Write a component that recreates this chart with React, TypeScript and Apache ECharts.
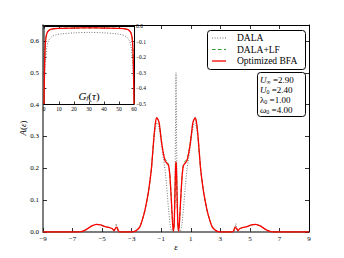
import React, { useEffect, useRef } from 'react';
import * as echarts from 'echarts';

// ---------- main panel data: A(eps) ----------
const EPS_BFA = [-9, -7, -6.6, -6.3, -6.0, -5.7, -5.4, -5.1, -4.8, -4.5, -4.3, -4.2, -4.1, -4.0, -3.9, -3.8, -3.0, -2.8, -2.6, -2.44, -2.3, -2.1, -1.88, -1.75, -1.65, -1.5, -1.4, -1.31, -1.2, -1.13, -1.05, -0.97, -0.85, -0.74, -0.6, -0.5, -0.42, -0.35, -0.28, -0.22, -0.17, -0.12, -0.07, -0.03, 0, 0.03, 0.07, 0.12, 0.17, 0.22, 0.28, 0.35, 0.42, 0.5, 0.6, 0.74, 0.85, 0.97, 1.05, 1.13, 1.2, 1.31, 1.4, 1.5, 1.65, 1.75, 1.88, 2.1, 2.3, 2.44, 2.6, 2.8, 3.0, 3.8, 3.9, 4.0, 4.1, 4.2, 4.3, 4.5, 4.8, 5.1, 5.4, 5.7, 6.0, 6.3, 6.6, 7, 9];
const A_BFA = [0, 0, 0, 0.003, 0.01, 0.019, 0.024, 0.022, 0.017, 0.014, 0.01, 0.004, 0.011, 0.015, 0.004, 0, 0, 0.002, 0.008, 0.017, 0.035, 0.069, 0.122, 0.165, 0.206, 0.295, 0.34, 0.359, 0.352, 0.34, 0.31, 0.28, 0.245, 0.224, 0.215, 0.208, 0.18, 0.13, 0.07, 0.02, 0.003, 0.03, 0.12, 0.2, 0.22, 0.2, 0.12, 0.03, 0.003, 0.02, 0.07, 0.13, 0.18, 0.208, 0.215, 0.224, 0.245, 0.28, 0.31, 0.34, 0.352, 0.359, 0.34, 0.295, 0.206, 0.165, 0.122, 0.069, 0.035, 0.017, 0.008, 0.002, 0, 0, 0.004, 0.015, 0.011, 0.004, 0.01, 0.014, 0.017, 0.022, 0.024, 0.019, 0.01, 0.003, 0, 0, 0];
const A_LF = [0, 0, 0, 0.003, 0.01, 0.019, 0.024, 0.022, 0.017, 0.014, 0.01, 0.004, 0.011, 0.015, 0.004, 0, 0, 0.002, 0.008, 0.017, 0.035, 0.069, 0.122, 0.165, 0.206, 0.295, 0.34, 0.358, 0.351, 0.339, 0.31, 0.281, 0.248, 0.229, 0.221, 0.21, 0.18, 0.13, 0.07, 0.02, 0.003, 0.03, 0.12, 0.2, 0.22, 0.2, 0.12, 0.03, 0.003, 0.02, 0.07, 0.13, 0.18, 0.21, 0.221, 0.229, 0.248, 0.281, 0.31, 0.339, 0.351, 0.358, 0.34, 0.295, 0.206, 0.165, 0.122, 0.069, 0.035, 0.017, 0.008, 0.002, 0, 0, 0.004, 0.015, 0.011, 0.004, 0.01, 0.014, 0.017, 0.022, 0.024, 0.019, 0.01, 0.003, 0, 0, 0];

const EPS_DALA = [-9, -4.2, -4.1, -4.05, -4.0, -3.9, -3.0, -2.8, -2.6, -2.44, -2.3, -2.1, -1.88, -1.65, -1.5, -1.4, -1.3, -1.2, -1.1, -1.0, -0.9, -0.8, -0.74, -0.63, -0.52, -0.41, -0.32, -0.22, -0.12, -0.07, -0.03, 0, 0.03, 0.07, 0.12, 0.22, 0.32, 0.41, 0.52, 0.63, 0.74, 0.8, 0.9, 1.0, 1.1, 1.2, 1.3, 1.4, 1.5, 1.65, 1.88, 2.1, 2.3, 2.44, 2.6, 2.8, 3.0, 3.9, 4.0, 4.05, 4.1, 4.2, 9];
const A_DALA = [0, 0, 0.012, 0.026, 0.012, 0, 0, 0.002, 0.008, 0.017, 0.033, 0.066, 0.118, 0.2, 0.285, 0.325, 0.343, 0.338, 0.315, 0.28, 0.245, 0.215, 0.196, 0.143, 0.08, 0.027, 0.004, 0.002, 0.02, 0.12, 0.35, 0.5, 0.35, 0.12, 0.02, 0.002, 0.004, 0.027, 0.08, 0.143, 0.196, 0.215, 0.245, 0.28, 0.315, 0.338, 0.343, 0.325, 0.285, 0.2, 0.118, 0.066, 0.033, 0.017, 0.008, 0.002, 0, 0, 0.012, 0.026, 0.012, 0, 0];

// ---------- inset data: G_f(tau) ----------
const TAU_BFA = [0, 0.3, 0.7, 1.2, 2, 3, 5, 10, 20, 30, 40, 50, 55, 57, 58, 58.8, 59.3, 59.7, 60];
const G_BFA = [-0.5, -0.3, -0.15, -0.08, -0.045, -0.03, -0.02, -0.015, -0.013, -0.012, -0.013, -0.015, -0.02, -0.03, -0.045, -0.08, -0.15, -0.3, -0.5];
const TAU_DALA = [0, 0.5, 1, 2, 3, 5, 8, 12, 20, 30, 40, 48, 52, 55, 57, 58, 59, 59.5, 60];
const G_DALA = [-0.5, -0.32, -0.22, -0.13, -0.095, -0.07, -0.056, -0.05, -0.044, -0.041, -0.044, -0.05, -0.056, -0.07, -0.095, -0.13, -0.22, -0.32, -0.5];

// ---------- ticks, legend, parameters ----------
const X_TICKS = [-9, -7, -5, -3, -1, 1, 3, 5, 7, 9];
const Y_TICKS = [0, 0.1, 0.2, 0.3, 0.4, 0.5, 0.6];
const TAU_TICKS = [0, 10, 20, 30, 40, 50, 60];
const G_TICKS = [-0.5, -0.4, -0.3, -0.2, -0.1, 0];
const LEGEND_NAMES = ['DALA', 'DALA+LF', 'Optimized BFA'];
const PARAMS = [
  ['U', '∞', ' =2.90'],
  ['U', '0', ' =2.40'],
  ['λ', '0', ' =1.00'],
  ['ω', '0', ' =4.00'],
];

const SERIF = 'Liberation Serif';
const C_DALA = '#666';
const C_LF = '#2a9a2a';
const C_BFA = '#ff0000';
const DOT = [1, 1.6];
const DASH = [3.5, 2.5];
const zip = (xs: number[], ys: number[]) => xs.map((x, i) => [x, ys[i]]);
const minus = (s: string) => s.replace('-', '−');

export default function App() {
  const ref = useRef<HTMLDivElement>(null);
  useEffect(() => {
    const chart = echarts.init(ref.current!, null, { renderer: 'svg' });
    const axisLine = { show: true, onZero: false, lineStyle: { color: '#000', width: 1 } };
    const thickLine = { show: true, onZero: false, lineStyle: { color: '#555', width: 1.5 } };
    const tick = (vals: number[], len = 4) => ({ show: true, inside: true, length: len, customValues: vals, lineStyle: { color: '#000', width: 0.8 } });
    const lbl = (size: number, margin: number, vals: number[], fmt: (v: number) => string) => ({
      show: true, fontSize: size, fontFamily: SERIF, color: '#000', margin, customValues: vals, formatter: fmt,
    });
    const legendStyles = [
      { stroke: C_DALA, lineWidth: 1, lineDash: DOT },
      { stroke: C_LF, lineWidth: 1, lineDash: DASH },
      { stroke: C_BFA, lineWidth: 1.3 },
    ];
    const option: any = {
      animation: false,
      backgroundColor: '#fff',
      grid: [
        { left: 43, top: 25, width: 266, height: 207, show: false },
        { left: 44, top: 26, width: 90, height: 78, show: true, backgroundColor: '#fff', borderWidth: 0, z: 5 },
      ],
      xAxis: [
        { type: 'value', gridIndex: 0, min: -9, max: 9, position: 'bottom', axisLine: thickLine,
          axisTick: tick(X_TICKS), axisLabel: lbl(7, 3, X_TICKS, (v: number) => minus(String(v))), splitLine: { show: false } },
        { type: 'value', gridIndex: 0, min: -9, max: 9, position: 'top', axisLine, axisTick: tick(X_TICKS), axisLabel: { show: false }, splitLine: { show: false } },
        { type: 'value', gridIndex: 1, min: 0, max: 60, position: 'bottom', axisLine, z: 6,
          axisTick: tick(TAU_TICKS, 2.5), axisLabel: lbl(5.5, 2, TAU_TICKS, (v: number) => String(v)), splitLine: { show: false } },
        { type: 'value', gridIndex: 1, min: 0, max: 60, position: 'top', axisLine, z: 6, axisTick: tick(TAU_TICKS, 2.5), axisLabel: { show: false }, splitLine: { show: false } },
      ],
      yAxis: [
        { type: 'value', gridIndex: 0, min: 0, max: 0.65, position: 'left', axisLine: thickLine,
          axisTick: tick(Y_TICKS), axisLabel: lbl(7, 4, Y_TICKS, (v: number) => v.toFixed(1)), splitLine: { show: false } },
        { type: 'value', gridIndex: 0, min: 0, max: 0.65, position: 'right', axisLine, axisTick: tick(Y_TICKS), axisLabel: { show: false }, splitLine: { show: false } },
        { type: 'value', gridIndex: 1, min: -0.5, max: 0, position: 'right', axisLine, z: 6,
          axisTick: tick(G_TICKS, 2.5), axisLabel: lbl(5.5, 2, G_TICKS, (v: number) => (Math.abs(v) < 1e-9 ? '0.0' : minus(v.toFixed(1)))), splitLine: { show: false } },
        { type: 'value', gridIndex: 1, min: -0.5, max: 0, position: 'left', axisLine: thickLine, z: 6,
          axisTick: tick(G_TICKS, 2.5), axisLabel: { show: false }, splitLine: { show: false } },
      ],
      series: [
        { name: LEGEND_NAMES[0], type: 'line', xAxisIndex: 0, yAxisIndex: 0, data: zip(EPS_DALA, A_DALA), showSymbol: false, symbol: 'none',
          lineStyle: { color: C_DALA, width: 0.9, type: DOT }, z: 2 },
        { name: LEGEND_NAMES[1], type: 'line', xAxisIndex: 0, yAxisIndex: 0, data: zip(EPS_BFA, A_LF), showSymbol: false, symbol: 'none', smooth: 0.2,
          lineStyle: { color: C_LF, width: 1, type: DASH }, z: 3 },
        { name: LEGEND_NAMES[2], type: 'line', xAxisIndex: 0, yAxisIndex: 0, data: zip(EPS_BFA, A_BFA), showSymbol: false, symbol: 'none', smooth: 0.2,
          lineStyle: { color: C_BFA, width: 1.3 }, z: 4 },
        { name: 'G DALA', type: 'line', xAxisIndex: 2, yAxisIndex: 2, data: zip(TAU_DALA, G_DALA), showSymbol: false, symbol: 'none', smooth: 0.3,
          lineStyle: { color: C_DALA, width: 0.9, type: DOT }, z: 7 },
        { name: 'G LF', type: 'line', xAxisIndex: 2, yAxisIndex: 2, data: zip(TAU_BFA, G_BFA), showSymbol: false, symbol: 'none', smooth: 0.3,
          lineStyle: { color: C_LF, width: 1, type: DASH }, z: 7 },
        { name: 'G BFA', type: 'line', xAxisIndex: 2, yAxisIndex: 2, data: zip(TAU_BFA, G_BFA), showSymbol: false, symbol: 'none', smooth: 0.3,
          lineStyle: { color: C_BFA, width: 1.3 }, z: 8 },
      ],
      graphic: [
        { type: 'text', x: 89, y: 96, z: 100,
          style: { text: '{i|G}{s|f}{n|(}{i|τ}{n|)}', align: 'center', verticalAlign: 'middle',
            rich: { i: { fontFamily: SERIF, fontStyle: 'italic', fontSize: 11, fill: '#000' },
                    s: { fontFamily: SERIF, fontStyle: 'italic', fontSize: 7, fill: '#000', verticalAlign: 'bottom' },
                    n: { fontFamily: SERIF, fontSize: 11, fill: '#000' } } } },
        { type: 'text', x: 23, y: 128, rotation: Math.PI / 2, z: 100,
          style: { text: '{i|A}{n|(}{i|ε}{n|)}', align: 'center', verticalAlign: 'middle',
            rich: { i: { fontFamily: SERIF, fontStyle: 'italic', fontSize: 9, fill: '#000' }, n: { fontFamily: SERIF, fontSize: 9, fill: '#000' } } } },
        { type: 'text', x: 176, y: 247, z: 100,
          style: { text: 'ε', fontFamily: SERIF, fontStyle: 'italic', fontSize: 9, fill: '#000', align: 'center', verticalAlign: 'middle' } },
        // legend box
        { type: 'rect', z: 100, shape: { x: 207.5, y: 30.5, width: 98, height: 39, r: 3 }, style: { fill: '#fff', stroke: '#000', lineWidth: 1 } },
        ...LEGEND_NAMES.map((name, i) => ({
          type: 'group', z: 101,
          children: [
            { type: 'line', z: 101, shape: { x1: 212, y1: 38 + i * 11.5, x2: 226, y2: 38 + i * 11.5 }, style: legendStyles[i] },
            { type: 'text', z: 101, x: 237, y: 38 + i * 11.5,
              style: { text: name, fontFamily: SERIF, fontSize: 9.5, fill: '#000', align: 'left', verticalAlign: 'middle' } },
          ],
        })),
        // parameter box
        { type: 'rect', z: 100, shape: { x: 257.5, y: 72.5, width: 48, height: 44, r: 3 }, style: { fill: '#fff', stroke: '#000', lineWidth: 1 } },
        ...PARAMS.map((p, i) => ({
          type: 'text', x: 260, y: 80 + i * 10, z: 101,
          style: {
            text: `{${p[0] === 'λ' ? 'n' : 'i'}|${p[0]}}{s|${p[1]}}{n|${p[2]}}`, align: 'left', verticalAlign: 'middle',
            rich: {
              i: { fontFamily: SERIF, fontStyle: 'italic', fontSize: 9, fill: '#000' },
              n: { fontFamily: SERIF, fontSize: 9, fill: '#000' },
              s: { fontFamily: SERIF, fontSize: 6, fill: '#000', verticalAlign: 'bottom' },
            },
          },
        })),
      ],
    };
    chart.setOption(option);
    return () => chart.dispose();
  }, []);
  return <div ref={ref} style={{ position: 'absolute', left: 0, top: 0, width: 344, height: 258 }} />;
}
